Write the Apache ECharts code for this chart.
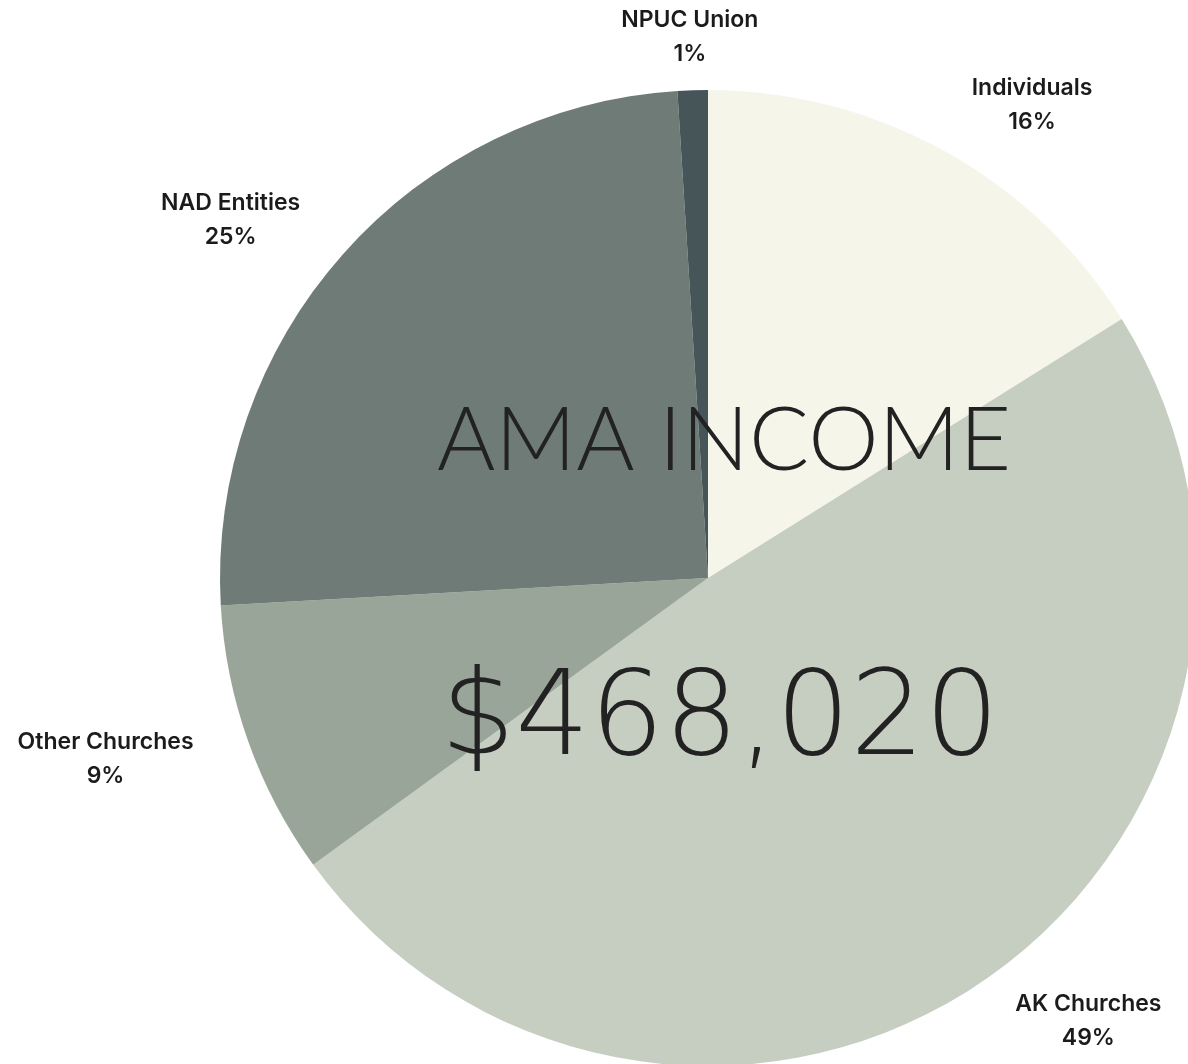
<!DOCTYPE html>
<html>
<head>
<meta charset="utf-8">
<script src="https://cdn.jsdelivr.net/npm/echarts@6/dist/echarts.min.js"></script>
<style>
html,body{margin:0;padding:0;background:#ffffff;}
#chart{width:1188px;height:1064px;}
</style>
</head>
<body>
<div id="chart"></div>
<script>
// Data
const categories = ['Individuals', 'AK Churches', 'Other Churches', 'NAD Entities', 'NPUC Union'];
const shares = [16.1, 48.9, 9.1, 24.9, 1.0];
const sliceColors = ['#F6F5EA', '#C6CDC1', '#9AA599', '#6F7B76', '#465658'];
const titleText = 'AMA INCOME';
const totalText = '$468,020';
// label nudges (style only)
const labelNudgeX = [44, 57, -58, -45, 0];
const labelNudgeY = [33, -36, -13, 26, 37];

const chart = echarts.init(document.getElementById('chart'), null, {renderer: 'canvas'});
const center = [708, 578];
const pieData = categories.map((c, i) => ({name: c, value: shares[i], itemStyle: {color: sliceColors[i]}}));
const labelData = categories.map((c, i) => ({name: c, value: shares[i]}));

chart.setOption({
  animation: false,
  backgroundColor: '#ffffff',
  title: [
    {
      text: titleText,
      left: 724,
      textAlign: 'center',
      top: 397,
      padding: 0,
      textStyle: {fontFamily: 'Lato', fontWeight: 300, fontSize: 89, lineHeight: 89, color: '#222222'}
    },
    {
      text: totalText,
      left: 720,
      textAlign: 'center',
      top: 665,
      padding: 0,
      textStyle: {fontFamily: 'DejaVu Sans', fontWeight: 200, fontSize: 117, lineHeight: 117, color: '#222222'}
    }
  ],
  series: [
    {
      type: 'pie',
      center: center,
      radius: [0, 488],
      startAngle: 90,
      clockwise: true,
      silent: true,
      z: 1,
      label: {show: false},
      labelLine: {show: false},
      itemStyle: {borderWidth: 0},
      data: pieData
    },
    {
      type: 'pie',
      center: center,
      radius: [560, 590],
      startAngle: 90,
      clockwise: true,
      silent: true,
      z: 1,
      percentPrecision: 0,
      itemStyle: {color: 'rgba(0,0,0,0)', borderWidth: 0},
      label: {
        show: true,
        position: 'inside',
        rotate: 0,
        formatter: '{b}\n{d}%',
        color: '#1b1b1b',
        fontFamily: 'Inter',
        fontWeight: 600,
        fontSize: 23,
        lineHeight: 34,
        align: 'center'
      },
      labelLine: {show: false},
      labelLayout: function (p) {
        return {dx: labelNudgeX[p.dataIndex], dy: labelNudgeY[p.dataIndex]};
      },
      data: labelData
    }
  ]
});
</script>
</body>
</html>
